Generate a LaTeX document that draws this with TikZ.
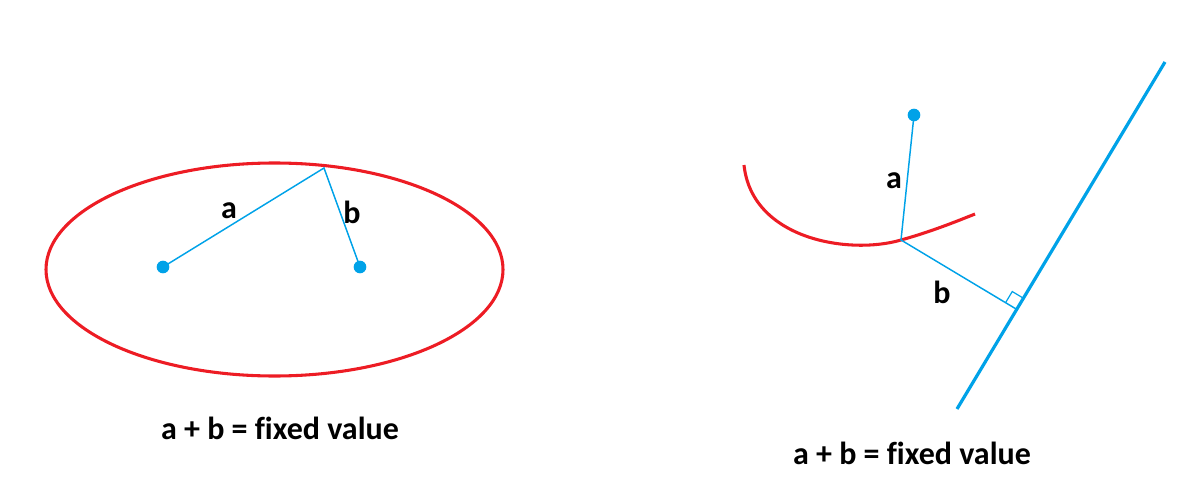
\documentclass[tikz,border=0pt]{standalone}
\usepackage{fontspec}
\setmainfont{Carlito}[Ligatures=NoCommon]
\usetikzlibrary{calc}
\definecolor{pblue}{RGB}{0,162,232}
\definecolor{pred}{RGB}{237,28,36}
\begin{document}
\begin{tikzpicture}[x=0.75pt,y=-0.75pt,
  thinline/.style={pblue,line width=1.1pt},
  thickline/.style={pblue,line width=2.4pt},
  redline/.style={pred,line width=2.3pt},
  dot/.style={circle,fill=pblue,inner sep=0pt,minimum size=9.5pt},
  lbl/.style={font=\fontsize{24}{29}\selectfont\bfseries,inner sep=0pt}]
\useasboundingbox (0,0) rectangle (1200,492);
% ---- left: ellipse ----
\draw[redline] (274.5,269.5) ellipse [x radius=228.5, y radius=106.5];
\coordinate (P) at (324,168);
\node[dot] (F1) at (163,267) {};
\node[dot] (F2) at (360,267) {};
\draw[thinline] (F1.center) -- (P) -- (F2.center);
\node[lbl] (la) at (229,211) {a};
\node[lbl] (lb) at (352,212) {b};
\node[lbl] (t1) at (280,428) {a + b = fixed value};
% ---- right: parabola ----
\coordinate (C0) at (744,165);
\coordinate (Q) at (901,240);
\coordinate (C1) at (975,214);
\draw[redline] (C0) .. controls (752,240) and (850,255) .. (Q)
  .. controls (930,232) and (955,222) .. (C1);
\coordinate (L1) at (957,409);
\coordinate (L2) at (1165,62);
\draw[thickline] (L1) -- (L2);
\node[dot] (F3) at (914,115) {};
\coordinate (H) at ($(L1)!(Q)!(L2)$);
\draw[thinline] (F3.center) -- (Q) -- (H);
\coordinate (R1) at ($(H)!9.75pt!(Q)$);
\coordinate (R2) at ($(H)!9.75pt!(L2)$);
\draw[pblue,line width=0.9pt] (R1) -- ($(R1)+(R2)-(H)$) -- (R2);
\node[lbl] (ra) at (894,181) {a};
\node[lbl] (rb) at (942,292) {b};
\node[lbl] (t2) at (912,453) {a + b = fixed value};
\end{tikzpicture}
\end{document}
